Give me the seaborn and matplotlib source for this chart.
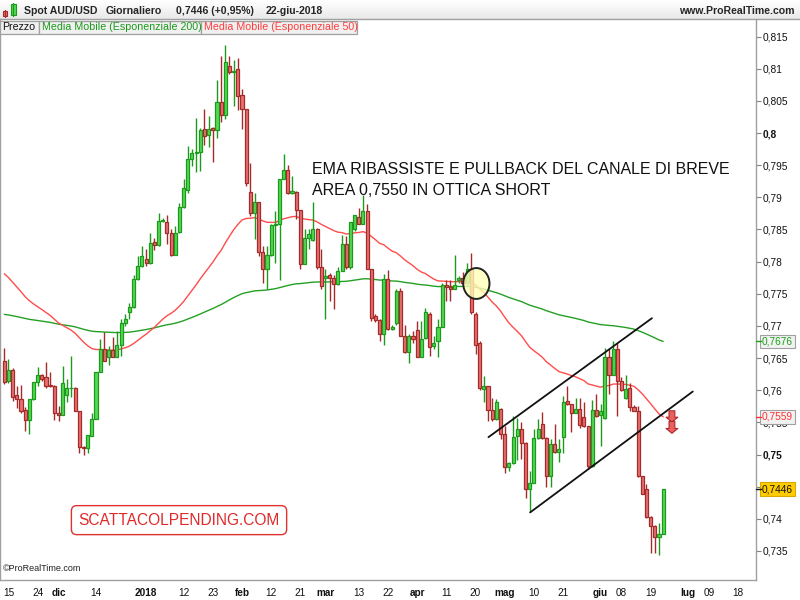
import numpy as np
import pandas as pd
import matplotlib
matplotlib.use("Agg")
import matplotlib.pyplot as plt
import matplotlib.patches as mpatches
from matplotlib.lines import Line2D
from matplotlib.transforms import blended_transform_factory
import seaborn as sns

# ---------------- data: daily AUD/USD bars ----------------
opens = [0.7646, 0.7615, 0.7631, 0.7592, 0.7587, 0.7570, 0.7554, 0.7586, 0.7613, 0.7624,
         0.7620, 0.7608, 0.7606, 0.7565, 0.7562, 0.7592, 0.7603, 0.7604, 0.7567, 0.7511,
         0.7510, 0.7529, 0.7556, 0.7629, 0.7664, 0.7652, 0.7662, 0.7652, 0.7671, 0.7705,
         0.7722, 0.7730, 0.7773, 0.7793, 0.7804, 0.7798, 0.7831, 0.7826, 0.7863, 0.7861,
         0.7845, 0.7811, 0.7846, 0.7885, 0.7912, 0.7960, 0.7969, 0.7971, 0.8006, 0.7997,
         0.8008, 0.8004, 0.8049, 0.8028, 0.8104, 0.8095, 0.8099, 0.8059, 0.8038, 0.7909,
         0.7876, 0.7892, 0.7815, 0.7789, 0.7810, 0.7857, 0.7858, 0.7929, 0.7942, 0.7906,
         0.7909, 0.7880, 0.7797, 0.7837, 0.7833, 0.7850, 0.7792, 0.7775, 0.7779, 0.7775,
         0.7765, 0.7786, 0.7827, 0.7791, 0.7850, 0.7870, 0.7859, 0.7879, 0.7789, 0.7716,
         0.7709, 0.7688, 0.7773, 0.7695, 0.7704, 0.7755, 0.7685, 0.7659, 0.7685, 0.7693,
         0.7652, 0.7682, 0.7719, 0.7669, 0.7677, 0.7699, 0.7764, 0.7761, 0.7758, 0.7771,
         0.7775, 0.7767, 0.7788, 0.7719, 0.7674, 0.7602, 0.7606, 0.7569, 0.7555, 0.7571,
         0.7532, 0.7481, 0.7487, 0.7529, 0.7539, 0.7518, 0.7447, 0.7456, 0.7525, 0.7548,
         0.7526, 0.7467, 0.7517, 0.7504, 0.7528, 0.7583, 0.7578, 0.7565, 0.7571, 0.7559,
         0.7544, 0.7482, 0.7570, 0.7562, 0.7557, 0.7652, 0.7624, 0.7664, 0.7614, 0.7588,
         0.7604, 0.7574, 0.7568, 0.7466, 0.7447, 0.7403, 0.7389, 0.7372, 0.7376]
highs = [0.7666, 0.7649, 0.7634, 0.7607, 0.7608, 0.7574, 0.7586, 0.7613, 0.7636, 0.7626,
         0.7644, 0.7628, 0.7608, 0.7575, 0.7638, 0.7617, 0.7654, 0.7605, 0.7567, 0.7513,
         0.7530, 0.7565, 0.7629, 0.7680, 0.7690, 0.7669, 0.7683, 0.7692, 0.7710, 0.7718,
         0.7736, 0.7779, 0.7809, 0.7824, 0.7819, 0.7845, 0.7837, 0.7875, 0.7868, 0.7873,
         0.7850, 0.7855, 0.7891, 0.7928, 0.7980, 0.7975, 0.8023, 0.8008, 0.8038, 0.8027,
         0.8009, 0.8083, 0.8119, 0.8137, 0.8119, 0.8113, 0.8116, 0.8068, 0.8038, 0.7954,
         0.7907, 0.7892, 0.7824, 0.7824, 0.7859, 0.7878, 0.7929, 0.7967, 0.7951, 0.7933,
         0.7910, 0.7881, 0.7850, 0.7850, 0.7892, 0.7852, 0.7819, 0.7788, 0.7782, 0.7779,
         0.7791, 0.7842, 0.7840, 0.7861, 0.7872, 0.7884, 0.7903, 0.7889, 0.7789, 0.7718,
         0.7710, 0.7780, 0.7787, 0.7701, 0.7758, 0.7759, 0.7702, 0.7687, 0.7692, 0.7708,
         0.7708, 0.7728, 0.7721, 0.7684, 0.7710, 0.7767, 0.7772, 0.7772, 0.7810, 0.7777,
         0.7784, 0.7798, 0.7813, 0.7721, 0.7676, 0.7622, 0.7607, 0.7588, 0.7586, 0.7572,
         0.7544, 0.7488, 0.7560, 0.7557, 0.7550, 0.7519, 0.7474, 0.7540, 0.7556, 0.7566,
         0.7527, 0.7524, 0.7548, 0.7524, 0.7591, 0.7606, 0.7579, 0.7588, 0.7588, 0.7581,
         0.7545, 0.7585, 0.7594, 0.7578, 0.7666, 0.7664, 0.7677, 0.7674, 0.7621, 0.7623,
         0.7611, 0.7577, 0.7575, 0.7467, 0.7454, 0.7404, 0.7390, 0.7394, 0.7446]
lows = [0.7610, 0.7612, 0.7583, 0.7572, 0.7564, 0.7536, 0.7532, 0.7585, 0.7606, 0.7615,
        0.7604, 0.7605, 0.7554, 0.7552, 0.7561, 0.7581, 0.7590, 0.7567, 0.7503, 0.7500,
        0.7503, 0.7529, 0.7556, 0.7629, 0.7645, 0.7640, 0.7651, 0.7651, 0.7653, 0.7700,
        0.7711, 0.7728, 0.7772, 0.7792, 0.7793, 0.7797, 0.7818, 0.7824, 0.7861, 0.7827,
        0.7809, 0.7810, 0.7845, 0.7884, 0.7906, 0.7949, 0.7939, 0.7941, 0.7981, 0.7979,
        0.7955, 0.7992, 0.8017, 0.8022, 0.8091, 0.8042, 0.8036, 0.8006, 0.7917, 0.7871,
        0.7835, 0.7809, 0.7767, 0.7757, 0.7809, 0.7798, 0.7772, 0.7928, 0.7905, 0.7905,
        0.7866, 0.7788, 0.7796, 0.7819, 0.7832, 0.7788, 0.7757, 0.7711, 0.7739, 0.7726,
        0.7763, 0.7785, 0.7788, 0.7788, 0.7848, 0.7858, 0.7858, 0.7788, 0.7708, 0.7706,
        0.7676, 0.7670, 0.7693, 0.7693, 0.7702, 0.7684, 0.7658, 0.7643, 0.7674, 0.7651,
        0.7651, 0.7679, 0.7653, 0.7664, 0.7652, 0.7698, 0.7739, 0.7738, 0.7757, 0.7766,
        0.7765, 0.7763, 0.7718, 0.7656, 0.7601, 0.7581, 0.7552, 0.7552, 0.7554, 0.7524,
        0.7472, 0.7474, 0.7486, 0.7491, 0.7493, 0.7433, 0.7411, 0.7455, 0.7524, 0.7524,
        0.7449, 0.7449, 0.7503, 0.7488, 0.7503, 0.7577, 0.7535, 0.7564, 0.7541, 0.7543,
        0.7477, 0.7481, 0.7559, 0.7513, 0.7556, 0.7594, 0.7623, 0.7560, 0.7599, 0.7586,
        0.7568, 0.7567, 0.7465, 0.7438, 0.7402, 0.7347, 0.7347, 0.7343, 0.7376]
closes = [0.7613, 0.7631, 0.7590, 0.7587, 0.7567, 0.7554, 0.7586, 0.7613, 0.7624, 0.7617,
          0.7607, 0.7606, 0.7565, 0.7562, 0.7612, 0.7604, 0.7604, 0.7567, 0.7511, 0.7510,
          0.7530, 0.7556, 0.7629, 0.7664, 0.7645, 0.7662, 0.7652, 0.7671, 0.7705, 0.7711,
          0.7730, 0.7773, 0.7793, 0.7808, 0.7798, 0.7829, 0.7826, 0.7863, 0.7864, 0.7845,
          0.7811, 0.7845, 0.7885, 0.7915, 0.7960, 0.7969, 0.7971, 0.8004, 0.7995, 0.8007,
          0.8004, 0.8049, 0.8028, 0.8111, 0.8095, 0.8097, 0.8057, 0.8038, 0.7923, 0.7876,
          0.7893, 0.7815, 0.7788, 0.7810, 0.7857, 0.7859, 0.7929, 0.7942, 0.7907, 0.7910,
          0.7880, 0.7797, 0.7837, 0.7843, 0.7850, 0.7792, 0.7762, 0.7777, 0.7775, 0.7765,
          0.7786, 0.7827, 0.7791, 0.7861, 0.7872, 0.7859, 0.7879, 0.7789, 0.7713, 0.7709,
          0.7688, 0.7773, 0.7695, 0.7698, 0.7755, 0.7685, 0.7659, 0.7685, 0.7680, 0.7652,
          0.7680, 0.7721, 0.7667, 0.7674, 0.7699, 0.7764, 0.7760, 0.7758, 0.7764, 0.7775,
          0.7767, 0.7788, 0.7721, 0.7671, 0.7604, 0.7606, 0.7569, 0.7555, 0.7581, 0.7532,
          0.7481, 0.7487, 0.7528, 0.7540, 0.7518, 0.7447, 0.7456, 0.7525, 0.7540, 0.7525,
          0.7467, 0.7517, 0.7504, 0.7509, 0.7581, 0.7578, 0.7565, 0.7571, 0.7546, 0.7544,
          0.7482, 0.7570, 0.7560, 0.7567, 0.7652, 0.7624, 0.7664, 0.7614, 0.7600, 0.7602,
          0.7574, 0.7568, 0.7466, 0.7439, 0.7403, 0.7389, 0.7372, 0.7376, 0.7446]

# session calendar: every weekday is a trading bar
first_day = "2017-11-14"
last_day = "2018-07-20"

# EMA levels carried in from the earlier history
ema200_start = 0.7719
ema50_start = 0.7788

# x-axis labels: (date, text, is_month)
date_ticks = [("2017-11-15", "15", False), ("2017-11-24", "24", False),
              ("2017-12-01", "dic", True), ("2017-12-14", "14", False),
              ("2018-01-01", "2018", True), ("2018-01-12", "12", False),
              ("2018-01-23", "23", False), ("2018-02-01", "feb", True),
              ("2018-02-12", "12", False), ("2018-02-21", "21", False),
              ("2018-03-01", "mar", True), ("2018-03-13", "13", False),
              ("2018-03-22", "22", False), ("2018-04-02", "apr", True),
              ("2018-04-11", "11", False), ("2018-04-20", "20", False),
              ("2018-05-01", "mag", True), ("2018-05-10", "10", False),
              ("2018-05-21", "21", False), ("2018-06-01", "giu", True),
              ("2018-06-08", "08", False), ("2018-06-19", "19", False),
              ("2018-07-02", "lug", True), ("2018-07-09", "09", False),
              ("2018-07-18", "18", False)]
mesi = ["gen", "feb", "mar", "apr", "mag", "giu", "lug", "ago", "set", "ott", "nov", "dic"]

# price axis
price_ticks = np.round(np.arange(0.735, 0.8151, 0.005), 3)
bold_ticks = [0.75, 0.8]

# hand-drawn channel (bar, price) and annotations
channel_upper = ([116.1, 155.3], [0.7527, 0.7712])
channel_lower = ([126.1, 165.1], [0.7410, 0.7598])
circle_bar, circle_price = 113.2, 0.7766
arrow_bar, arrow_from, arrow_to = 160.1, 0.7568, 0.7533
note_lines = ["EMA RIBASSISTE E PULLBACK DEL CANALE DI BREVE",
              "AREA 0,7550 IN OTTICA SHORT"]

# ---------------- derived series ----------------
days = pd.bdate_range(first_day, last_day)
pos = {d: i for i, d in enumerate(days)}

o = np.array(opens); h = np.array(highs); l = np.array(lows); c = np.array(closes)
n = len(c)
bars = np.arange(n)

ema200 = pd.Series([ema200_start] + closes).ewm(span=200, adjust=False).mean().iloc[1:].to_numpy()
ema50 = pd.Series([ema50_start] + closes).ewm(span=50, adjust=False).mean().iloc[1:].to_numpy()
lines_df = pd.DataFrame({"bar": np.concatenate([bars, bars]),
                         "value": np.concatenate([ema200, ema50]),
                         "serie": ["EMA200"] * n + ["EMA50"] * n})

# ---------------- figure ----------------
sns.set_style("white")
plt.rcParams["font.family"] = ["Liberation Sans", "DejaVu Sans"]
W, H = 800, 600
fig = plt.figure(figsize=(W / 100, H / 100), dpi=100)
fig.patch.set_facecolor("white")


def fx(px):
    return px / W


def fy(py):
    return 1 - py / H


GREEN_FILL, GREEN_EDGE = "#55d955", "#1c9a1c"
RED_FILL, RED_EDGE = "#e97070", "#a52a2a"
GRAY = "#a0a0a0"

# header band
hdr = fig.add_axes([0, fy(19), 1, 19 / H])
grad = np.linspace(1.0, 0.91, 32).reshape(-1, 1)
hdr.imshow(grad, cmap="gray", vmin=0, vmax=1, aspect="auto", extent=[0, 1, 0, 1])
hdr.set_axis_off()
fig.add_artist(Line2D([0, 1], [fy(19), fy(19)], color=GRAY, lw=1, transform=fig.transFigure))

# main price axes
ax = fig.add_axes([0, fy(580), fx(756), (580 - 19) / H])
ax.set_xlim(-1.03, 180.26)
ax.set_ylim(0.73049, 0.81773)

up = c >= o
edge = np.where(up, GREEN_EDGE, RED_EDGE)
fill = np.where(up, GREEN_FILL, RED_FILL)

sns.lineplot(data=lines_df, x="bar", y="value", hue="serie",
             palette={"EMA200": "#23a023", "EMA50": "#ff4c4c"},
             linewidth=1.0, legend=False, ax=ax, zorder=2)
ax.vlines(bars, l, h, colors=edge, linewidth=1.0, zorder=3)
ax.bar(bars, np.abs(c - o), bottom=np.minimum(o, c), width=0.74,
       color=fill, edgecolor=edge, linewidth=0.9, zorder=4)

# channel, highlight circle and arrow
ax.plot(*channel_upper, color="#111111", lw=1.3, zorder=6)
ax.plot(*channel_lower, color="#111111", lw=1.3, zorder=6)
ax.add_patch(mpatches.Ellipse((circle_bar, circle_price), 6.3, 0.0048,
                              facecolor=(1.0, 1.0, 0.72, 0.8), edgecolor="#222222",
                              lw=1.4, zorder=7))
arrow_mid = (arrow_from + arrow_to) / 2
for y_start, y_end in [(arrow_from, arrow_mid), (arrow_mid + 0.0001, arrow_to)]:
    ax.annotate("", xy=(arrow_bar, y_end), xytext=(arrow_bar, y_start),
                arrowprops=dict(arrowstyle="simple,head_length=0.35,head_width=0.85,tail_width=0.42",
                                fc="#e86060", ec="#b02828", lw=0.8, shrinkA=0, shrinkB=0),
                zorder=7)

# comment text
ax.text(73.8, 0.7943, note_lines[0], fontsize=11.5, color="#111111", va="center", ha="left", zorder=8)
ax.text(73.8, 0.7911, note_lines[1], fontsize=11.5, color="#111111", va="center", ha="left", zorder=8)
ax.text(41.9, 0.7398, "SCATTACOLPENDING.COM", fontsize=11.2, color="#e02a2a",
        ha="center", va="center", zorder=8,
        bbox=dict(boxstyle="round,pad=0.45,rounding_size=0.35", fc="white",
                  ec="#e03030", lw=1.0))
ax.text(3 / 756, 0.012, "\u00a9ProRealTime.com", transform=ax.transAxes,
        fontsize=6.5, color="#222222", ha="left", va="bottom")

# frame
for side in ["left", "right", "bottom"]:
    ax.spines[side].set_color(GRAY)
    ax.spines[side].set_linewidth(1.0)
ax.spines["top"].set_visible(False)
ax.set_xlabel("")
ax.set_ylabel("")

# price axis on the right
ax.yaxis.tick_right()
ax.set_yticks(price_ticks)
ylabels = [("%.3f" % v).rstrip("0").replace(".", ",") for v in price_ticks]
ax.set_yticklabels(ylabels)
ax.tick_params(axis="y", which="both", direction="out", length=3.6, width=0.8,
               color="#808080", pad=1.2, labelsize=7.3, labelcolor="#111111",
               left=False, right=True)
for lab, v in zip(ax.get_yticklabels(), price_ticks):
    if any(abs(v - b) < 1e-9 for b in bold_ticks):
        lab.set_fontweight("bold")

# time axis
tick_pos = [pos[pd.Timestamp(d)] for d, _, _ in date_ticks]
ax.set_xticks(tick_pos)
ax.set_xticklabels([t for _, t, _ in date_ticks])
ax.tick_params(axis="x", direction="out", length=3, width=0.8, color="#808080",
               pad=2.5, labelsize=7.2, labelcolor="#111111")
for lab, (_, _, is_month) in zip(ax.get_xticklabels(), date_ticks):
    lab.set_family(["Liberation Sans Narrow", "Liberation Sans", "DejaVu Sans"])
    if is_month:
        lab.set_fontweight("bold")

# last-value boxes on the price axis
tr = blended_transform_factory(ax.transAxes, ax.transData)
x_box = 762 / 756
value_boxes = [(ema200[-1], "#18a018", "#f2f2f2", GRAY),
               (ema50[-1], "#ff3030", "#f2f2f2", GRAY),
               (c[-1], "#111111", "#ffcc00", "#d9a900")]
for val, tc, fc, ec in value_boxes:
    ax.text(x_box, val, ("%.4f" % val).replace(".", ","), transform=tr, fontsize=7.3,
            color=tc, ha="left", va="center", clip_on=False, zorder=10,
            bbox=dict(boxstyle="square,pad=0.18", fc=fc, ec=ec, lw=0.8))
    ax.plot([1.0, 1.0 + 5 / 756], [val, val], transform=tr, color=tc,
            lw=1.0, clip_on=False, zorder=10)

# header texts
chg = (c[-1] / c[-2] - 1) * 100
last_day_bar = days[n - 1]
hdr_y = fy(11.5)
fig.text(fx(24), hdr_y, "Spot AUD/USD", fontsize=7.6, fontweight="bold", va="center")
fig.text(fx(106), hdr_y, "Giornaliero", fontsize=7.6, fontweight="bold", va="center")
fig.text(fx(176), hdr_y, ("%.4f (%+.2f%%)" % (c[-1], chg)).replace(".", ","),
         fontsize=7.6, fontweight="bold", va="center")
fig.text(fx(265.7), hdr_y, "%d-%s-%d" % (last_day_bar.day, mesi[last_day_bar.month - 1], last_day_bar.year),
         fontsize=7.6, fontweight="bold", va="center")
fig.text(fx(795), hdr_y, "www.ProRealTime.com", fontsize=7.6, fontweight="bold",
         va="center", ha="right")


# header candle icon
def px_rect(x0, y0, x1, y1, fc, ec):
    fig.add_artist(mpatches.Rectangle((fx(x0), fy(y1)), fx(x1) - fx(x0), fy(y0) - fy(y1),
                                      transform=fig.transFigure, fc=fc, ec=ec, lw=0.8))


def px_line(x, y0, y1, col):
    fig.add_artist(Line2D([fx(x), fx(x)], [fy(y0), fy(y1)], color=col, lw=0.9,
                          transform=fig.transFigure))


px_line(5.3, 10, 16.7, RED_EDGE)
px_rect(3.3, 11, 7.3, 16, RED_FILL, RED_EDGE)
px_line(13.2, 2.7, 16, GREEN_EDGE)
px_rect(10.7, 4, 15.7, 15, GREEN_FILL, GREEN_EDGE)

# indicator legend tabs
tabs = [(0, 39.3, "Prezzo", "#111111"),
        (39.3, 201.3, "Media Mobile (Esponenziale 200)", "#1c9a1c"),
        (201.3, 356.7, "Media Mobile (Esponenziale 50)", "#ff3c3c")]
for x0, x1, label, col in tabs:
    fig.add_artist(mpatches.Rectangle((fx(x0), fy(33.5)), fx(x1) - fx(x0), (33.5 - 20.5) / H,
                                      transform=fig.transFigure, fc="#f0f0f0", ec=GRAY,
                                      lw=0.9, zorder=20))
    fig.text(fx(x0 + 2.3), fy(27.3), label, fontsize=7.7, color=col, va="center",
             ha="left", zorder=21)

fig.savefig("out.png", dpi=100, facecolor="white")
